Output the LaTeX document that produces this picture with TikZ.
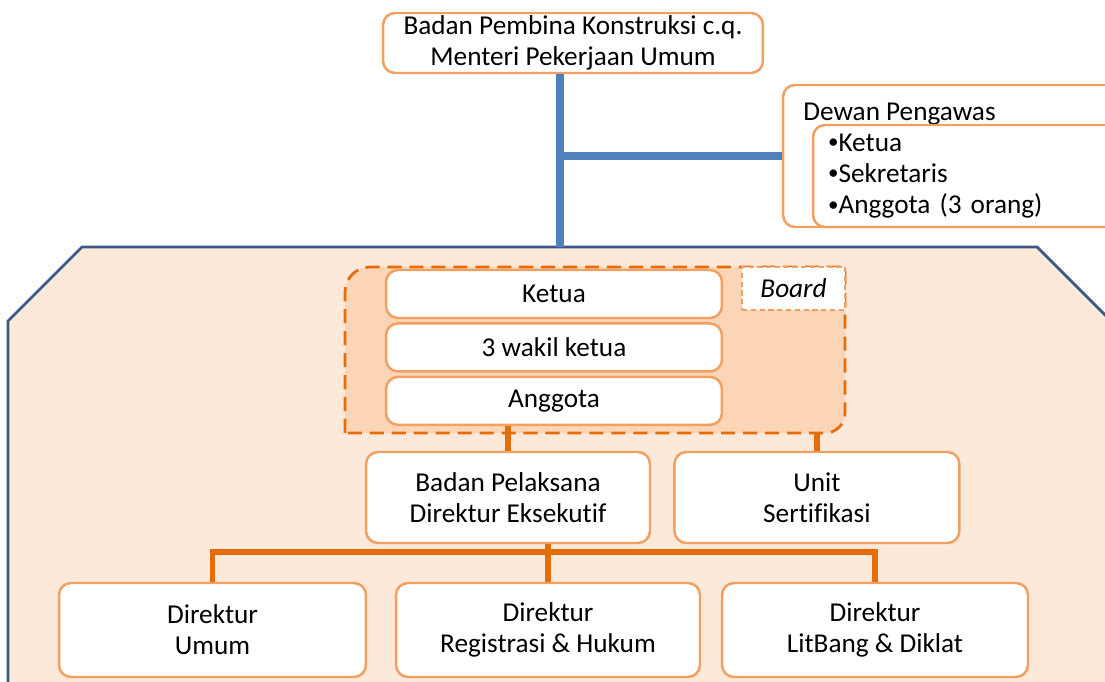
\documentclass[tikz,border=0pt]{standalone}
\usepackage{fontspec}
\setmainfont{Carlito}[Ligatures=NoCommon]
\usetikzlibrary{positioning}

\definecolor{boxline}{HTML}{F2A062}
\definecolor{connorange}{HTML}{E46C0A}
\definecolor{peach}{HTML}{FDE9D9}
\definecolor{boardfill}{HTML}{FBD5B5}
\definecolor{connblue}{HTML}{4F81BD}
\definecolor{frameblue}{HTML}{3B5B86}

\newcommand{\bul}{\raisebox{0.2ex}{\fontsize{12}{14}\selectfont•}}

\begin{document}
\begin{tikzpicture}[x=0.02cm,y=-0.02cm,
  orgbox/.style={draw=boxline, line width=1.4pt, fill=white, rounded corners=0.24cm,
    align=center, inner sep=0pt, font=\fontsize{15.5}{17.8}\selectfont},
  blueconn/.style={draw=connblue, line width=4pt},
  orangeconn/.style={draw=connorange, line width=3.4pt, line join=miter}]

\useasboundingbox (0,0) rectangle (1105,682);
\clip (0,0) rectangle (1105,682);

% ---------------------------
% 上层：Badan Pembina & Dewan Pengawas
% ---------------------------
\node[orgbox, minimum width=7.6cm, minimum height=1.2cm] (top) at (573,43)
  {Badan Pembina Konstruksi c.q.\\Menteri Pekerjaan Umum};

\node[orgbox, minimum width=6.94cm, minimum height=2.84cm] (dewan) at (956.5,156) {};
\node[anchor=west, inner sep=0pt, font=\fontsize{15.5}{17.8}\selectfont] (dewantext) at (803,114)
  {Dewan Pengawas};
\node[orgbox, align=left, minimum width=6.34cm, minimum height=2.04cm,
  text width=5.74cm, inner xsep=0.3cm] (dewanlist) at (971.5,176)
  {\bul Ketua\\\bul Sekretaris\\\bul Anggota (3 orang)};

% ---------------------------
% 外框（八角形）
% ---------------------------
\draw[frameblue, fill=peach, line width=1.6pt]
  (82,247) -- (1037,247) -- (1125,335) -- (1125,720) -- (8,720) -- (8,321) -- cycle;

\coordinate (trunk) at (560,247);
\draw[blueconn] (top.south -| trunk) -- (trunk);
\draw[blueconn] (trunk |- dewan.west) -- (dewan.west);

% ---------------------------
% Board
% ---------------------------
\coordinate (boardNW) at (345,267);
\coordinate (boardSE) at (845,433);
\draw[connorange, fill=boardfill, line width=1.6pt, dash pattern=on 8pt off 4.5pt]
  (boardNW |- boardSE)
  [rounded corners=0.5cm] -- (boardNW)
  [sharp corners] -- (boardNW -| boardSE)
  [rounded corners=0.4cm] -- (boardSE)
  [sharp corners] -- (boardNW |- boardSE) -- cycle;

\node[draw=boxline, line width=1.2pt, dash pattern=on 3pt off 2pt, fill=white,
  minimum width=2.06cm, minimum height=0.86cm, inner sep=0pt,
  font=\fontsize{15.5}{17.8}\selectfont\itshape] (boardlabel) at (793.5,288.5) {Board};

\node[orgbox, minimum width=6.72cm, minimum height=0.96cm] (ketua) at (554,294) {Ketua};
\node[orgbox, minimum width=6.72cm, minimum height=0.96cm, below=0.06cm of ketua] (wakil)
  {3 wakil ketua};
\node[orgbox, minimum width=6.72cm, minimum height=0.96cm, below=0.06cm of wakil] (anggota)
  {Anggota};

% ---------------------------
% Badan Pelaksana & Unit
% ---------------------------
\node[orgbox, minimum width=5.68cm, minimum height=1.82cm] (badan) at (508,497.5)
  {Badan Pelaksana\\Direktur Eksekutif};
\node[orgbox, minimum width=5.7cm, minimum height=1.82cm, right=0.44cm of badan] (unit)
  {Unit\\Sertifikasi};

% ---------------------------
% Direktur
% ---------------------------
\node[orgbox, minimum width=6.14cm, minimum height=1.88cm] (umum) at (212.5,630)
  {Direktur\\Umum};
\node[orgbox, minimum width=6.08cm, minimum height=1.88cm] (reg) at (548,630)
  {Direktur\\Registrasi \& Hukum};
\node[orgbox, minimum width=6.12cm, minimum height=1.88cm] (litbang) at (875,630)
  {Direktur\\LitBang \& Diklat};

\draw[orangeconn] (anggota.south -| badan.north) -- (badan.north);
\draw[orangeconn] (boardSE -| unit.north) -- (unit.north);
\draw[orangeconn] (umum.north) -- ++(0,-30) -| (litbang.north);
\draw[orangeconn] (badan.south -| reg.north) -- (reg.north);

\end{tikzpicture}
\end{document}
